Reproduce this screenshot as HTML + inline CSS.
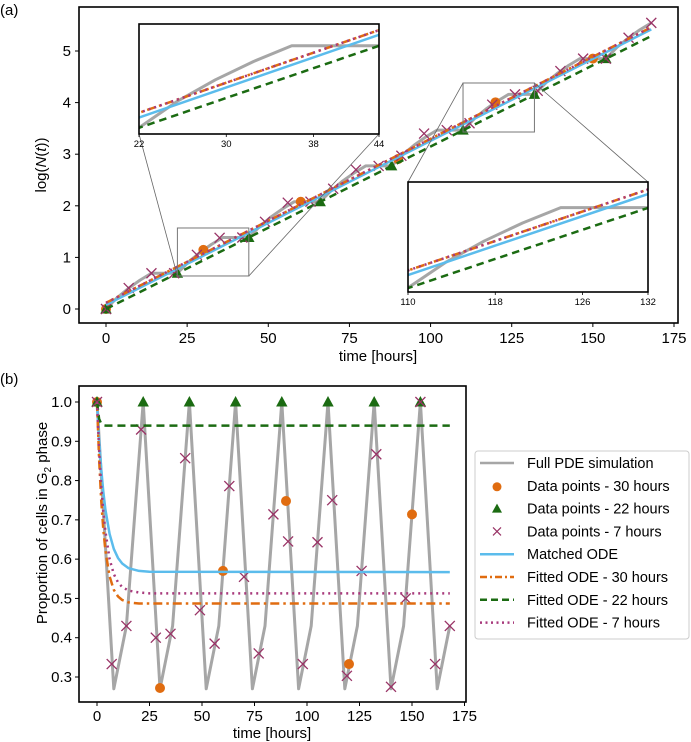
<!DOCTYPE html>
<html><head><meta charset="utf-8"><style>
html,body{margin:0;padding:0;background:#fff}
svg{display:block;font-family:"Liberation Sans","DejaVu Sans",sans-serif}
</style></head><body>
<svg id="fig" width="691" height="742" viewBox="0 0 691 742" xmlns="http://www.w3.org/2000/svg">
<defs>
<clipPath id="clipA"><rect x="79" y="7" width="599" height="316"/></clipPath>
<clipPath id="clipI1"><rect x="139" y="24" width="240" height="110"/></clipPath>
<clipPath id="clipI2"><rect x="408" y="182" width="240" height="110"/></clipPath>
<clipPath id="clipB"><rect x="79" y="386" width="387" height="316"/></clipPath>
</defs>
</svg>
<script>
// ---------- Panel (a) data ----------
const pdeAT=[0,3.5,7,10.5,14,22,25.5,29,32.5,36,44,47.5,51,54.5,58,66,69.5,73,76.5,80,88,91.5,95,98.5,102,110,113.5,117,120.5,124,132,135.5,139,142.5,146,154,157.5,161,164.5,168];
const pdeAY=[0,0.223,0.405,0.560,0.693,0.693,0.916,1.098,1.253,1.386,1.386,1.609,1.791,1.946,2.079,2.079,2.302,2.484,2.639,2.773,2.773,2.996,3.178,3.333,3.466,3.466,3.689,3.871,4.026,4.159,4.159,4.382,4.564,4.719,4.852,4.852,5.075,5.257,5.412,5.545];
const odeAT=[0,168];
const matchedA=[0.08,5.42];
const fit30A=[0.12,5.46];
const fit22A=[0.0,5.29];
const fit7A=[0.12,5.46];
const circT=[0,30,60,90,120,150];
const circAY=[0,1.145,2.079,2.906,4.005,4.852];
const triT=[0,22,44,66,88,110,132,154];
const triAY=[0,0.693,1.386,2.079,2.773,3.466,4.159,4.852];
const crossT=[0,7,14,21,28,35,42,49,56,63,70,77,84,91,98,105,112,119,126,133,140,147,154,161,168];
const crossAY=[0,0.405,0.693,0.693,1.05,1.38,1.386,1.69,2.06,2.079,2.33,2.70,2.773,2.97,3.40,3.466,3.60,3.96,4.159,4.228,4.611,4.852,4.852,5.257,5.545];
const xTicksA=[0,25,50,75,100,125,150,175];
const yTicksA=[0,1,2,3,4,5];
const inset1Ticks=[22,30,38,44];
const inset2Ticks=[110,118,126,132];
// ---------- Panel (b) data ----------
const pdeBT=[0,8,14,22,30,36,44,52,58,66,74,80,88,96,102,110,118,124,132,140,146,154,162,168];
const pdeBY=[1,0.27,0.43,1,0.27,0.43,1,0.27,0.43,1,0.27,0.43,1,0.27,0.43,1,0.27,0.43,1,0.27,0.43,1,0.27,0.43];
const odeBT=[0,1,2,3,4,6,8,10,12,15,20,25,168];
const matchedB=[1,0.904,0.830,0.772,0.726,0.664,0.626,0.603,0.589,0.577,0.570,0.568,0.567];
const fit30B=[1,0.855,0.750,0.676,0.622,0.556,0.522,0.505,0.496,0.490,0.487,0.487,0.487];
const fit22B=[1,0.957,0.945,0.941,0.940,0.94,0.94,0.94,0.94,0.94,0.94,0.94,0.94];
const fit7B=[1,0.878,0.788,0.721,0.671,0.600,0.562,0.541,0.529,0.520,0.515,0.513,0.513];
const circBY=[1,0.272,0.57,0.748,0.333,0.714];
const triBY=[1,1,1,1,1,1,1,1];
const crossBY=[1,0.333,0.43,0.93,0.4,0.41,0.857,0.47,0.385,0.786,0.555,0.36,0.714,0.645,0.333,0.643,0.75,0.303,0.57,0.867,0.275,0.5,1.0,0.333,0.43];
const xTicksB=[0,25,50,75,100,125,150,175];
const yTicksB=[0.3,0.4,0.5,0.6,0.7,0.8,0.9,1.0];

const C={grey:"#a6a6a6",orange:"#e06c10",green:"#1b6b12",blue:"#5bbcec",purple:"#a83a7c",cross:"#993366"};
const NS="http://www.w3.org/2000/svg";
const svg=document.getElementById('fig');
function el(tag,attrs,parent,text){const e=document.createElementNS(NS,tag);for(const k in attrs)e.setAttribute(k,attrs[k]);if(text!==undefined)e.textContent=text;(parent||svg).appendChild(e);return e;}
function lin(d0,d1,r0,r1){return v=>r0+(v-d0)*(r1-r0)/(d1-d0);}
function pathD(xs,ys,X,Y){return xs.map((t,i)=>(i?'L':'M')+X(t).toFixed(2)+' '+Y(ys[i]).toFixed(2)).join(' ');}

function drawSeries(g,X,Y,T,V,color,w,dash,name){
  const p=el('path',{d:pathD(T,V,X,Y),fill:'none',stroke:color,'stroke-width':w,'stroke-dasharray':dash||'none','stroke-linejoin':'round'},g);
  
  
  return p;
}
function drawMarkers(g,X,Y,T,V,kind,name,s){
  T.forEach((t,i)=>{
    const x=X(t),y=Y(V[i]);let m;
    if(kind==='circle'){m=el('circle',{cx:x,cy:y,r:s,fill:C.orange},g);}
    else if(kind==='tri'){m=el('path',{d:`M${x} ${y-s} L${x+s*0.95} ${y+s*0.75} L${x-s*0.95} ${y+s*0.75}Z`,fill:C.green},g);}
    else {m=el('path',{d:`M${x-s} ${y-s}L${x+s} ${y+s}M${x-s} ${y+s}L${x+s} ${y-s}`,stroke:C.cross,'stroke-width':1.3,fill:'none'},g);}
    
    
  });
}
function drawAllA(g,X,Y,sw,markers){
  drawSeries(g,X,Y,pdeAT,pdeAY,C.grey,sw+0.5,null,'pde-simulation-line');
  if(markers){
    drawMarkers(g,X,Y,circT,circAY,'circle','data-point-30h',5);
    drawMarkers(g,X,Y,triT,triAY,'tri','data-point-22h',6);
    drawMarkers(g,X,Y,crossT,crossAY,'cross','data-point-7h',5);
  }
  drawSeries(g,X,Y,odeAT,matchedA,C.blue,sw,null,'matched-ode-line');
  drawSeries(g,X,Y,odeAT,fit30A,C.orange,sw,(sw*3.5)+' '+(sw*1.5)+' '+sw+' '+(sw*1.5),'fitted-ode-30h-line');
  drawSeries(g,X,Y,odeAT,fit22A,C.green,sw,(sw*3)+' '+(sw*2),'fitted-ode-22h-line');
  drawSeries(g,X,Y,odeAT,fit7A,C.purple,sw,(sw*0.8)+' '+(sw*1.6),'fitted-ode-7h-line');
}

// ---------- Panel a ----------
const gA=el('g',{});
el('text',{x:0,y:15,'font-size':15,fill:'#000',},gA,'(a)');
const XA=lin(0,175,106,674),YA=lin(0,5,309,51);
const plotA=el('g',{'clip-path':'url(#clipA)'},gA);
drawAllA(plotA,XA,YA,2.5,true);
// zoom rectangles and connectors
el('rect',{x:XA(22),y:YA(1.57),width:XA(44)-XA(22),height:YA(0.64)-YA(1.57),fill:'none',stroke:'#777','stroke-width':1,},gA);
el('rect',{x:XA(110),y:YA(4.38),width:XA(132)-XA(110),height:YA(3.43)-YA(4.38),fill:'none',stroke:'#777','stroke-width':1,},gA);
el('path',{d:`M139 134L${XA(22)} ${YA(0.64)}M379 134L${XA(44)} ${YA(0.64)}M408 182L${XA(110)} ${YA(4.38)}M648 182L${XA(132)} ${YA(4.38)}`,stroke:'#666','stroke-width':0.8,fill:'none',},gA);
// insets
function inset(x0,y0,w,h,t0,t1,v0,v1,clip,ticks,name){
  const g=el('g',{},gA);
  el('rect',{x:x0,y:y0,width:w,height:h,fill:'#fff'},g);
  const X=lin(t0,t1,x0,x0+w),Y=lin(v0,v1,y0+h,y0);
  const pg=el('g',{'clip-path':`url(#${clip})`},g);
  drawAllA(pg,X,Y,2.5,false);
  el('rect',{x:x0,y:y0,width:w,height:h,fill:'none',stroke:'#000','stroke-width':1.6},g);
  ticks.forEach(t=>{el('line',{x1:X(t),x2:X(t),y1:y0+h,y2:y0+h+3,stroke:'#000','stroke-width':0.8},g);
    el('text',{x:X(t),y:y0+h+13,'font-size':9.5,'text-anchor':'middle',},g,t);});
}
inset(139,24,240,110,22,44,0.64,1.57,'clipI1',inset1Ticks,'inset-1');
inset(408,182,240,110,110,132,3.43,4.38,'clipI2',inset2Ticks,'inset-2');
el('rect',{x:79,y:7,width:599,height:316,fill:'none',stroke:'#000','stroke-width':1.6,},gA);
xTicksA.forEach(t=>{el('line',{x1:XA(t),x2:XA(t),y1:323,y2:327,stroke:'#000'},gA);
  el('text',{x:XA(t),y:343,'font-size':15,'text-anchor':'middle',},gA,t);});
yTicksA.forEach(v=>{el('line',{x1:75,x2:79,y1:YA(v),y2:YA(v),stroke:'#000'},gA);
  el('text',{x:71,y:YA(v)+5,'font-size':15,'text-anchor':'end',},gA,v);});
el('text',{x:378,y:361,'font-size':15,'text-anchor':'middle',},gA,'time [hours]');
const ylA=el('text',{x:0,y:0,'font-size':15,'text-anchor':'middle',transform:'translate(46,165) rotate(-90)',},gA);
ylA.innerHTML='log(<tspan font-style="italic">N</tspan>(<tspan font-style="italic">t</tspan>))';

// ---------- Panel b ----------
const gB=el('g',{});
el('text',{x:0,y:384,'font-size':15,},gB,'(b)');
const XB=lin(0,150,97,412),YB=lin(0.3,1.0,677,402);
const plotB=el('g',{'clip-path':'url(#clipB)'},gB);
drawSeries(plotB,XB,YB,pdeBT,pdeBY,C.grey,3,null,'pde-simulation-line');
drawMarkers(plotB,XB,YB,circT,circBY,'circle','data-point-30h',5);
drawMarkers(plotB,XB,YB,triT,triBY,'tri','data-point-22h',6);
drawMarkers(plotB,XB,YB,crossT,crossBY,'cross','data-point-7h',5);
drawSeries(plotB,XB,YB,odeBT,matchedB,C.blue,2.5,null,'matched-ode-line');
drawSeries(plotB,XB,YB,odeBT,fit30B,C.orange,2.5,'9 4 2.5 4','fitted-ode-30h-line');
drawSeries(plotB,XB,YB,odeBT,fit22B,C.green,2.5,'8 5','fitted-ode-22h-line');
drawSeries(plotB,XB,YB,odeBT,fit7B,C.purple,2.5,'2 4','fitted-ode-7h-line');
el('rect',{x:79,y:386,width:387,height:316,fill:'none',stroke:'#000','stroke-width':1.6,},gB);
xTicksB.forEach(t=>{el('line',{x1:XB(t),x2:XB(t),y1:702,y2:706,stroke:'#000'},gB);
  el('text',{x:XB(t),y:721,'font-size':15,'text-anchor':'middle',},gB,t);});
yTicksB.forEach(v=>{el('line',{x1:75,x2:79,y1:YB(v),y2:YB(v),stroke:'#000'},gB);
  el('text',{x:72,y:YB(v)+5,'font-size':15,'text-anchor':'end',},gB,v.toFixed(1));});
el('text',{x:272,y:738,'font-size':15,'text-anchor':'middle',},gB,'time [hours]');
const ylB=el('text',{x:0,y:0,'font-size':15,'text-anchor':'middle',transform:'translate(47,523) rotate(-90)',},gB);
ylB.innerHTML='Proportion of cells in G<tspan font-size="10" dy="4">2</tspan><tspan dy="-4"> phase</tspan>';

// ---------- Legend ----------
const gL=el('g',{});
el('rect',{x:475,y:451,width:214,height:188,rx:3,fill:'#fff',stroke:'#ccc','stroke-width':1},gL);
const legItems=[['Full PDE simulation','line',C.grey,null],['Data points - 30 hours','circle'],['Data points - 22 hours','tri'],['Data points - 7 hours','cross'],['Matched ODE','line',C.blue,null],['Fitted ODE - 30 hours','line',C.orange,'7 3 2 3'],['Fitted ODE - 22 hours','line',C.green,'7 4'],['Fitted ODE - 7 hours','line',C.purple,'2 3.5']];
legItems.forEach((it,i)=>{
  const y=463+i*22.8;
  const g=el('g',{},gL);
  
  
  if(it[1]==='line')el('line',{x1:480,x2:514,y1:y,y2:y,stroke:it[2],'stroke-width':2.5,'stroke-dasharray':it[3]||'none'},g);
  else if(it[1]==='circle')el('circle',{cx:497,cy:y+1,r:4.5,fill:C.orange},g);
  else if(it[1]==='tri')el('path',{d:`M497 ${y-5}L502 ${y+4}L492 ${y+4}Z`,fill:C.green},g);
  else el('path',{d:`M493 ${y-4}L501 ${y+4}M493 ${y+4}L501 ${y-4}`,stroke:C.cross,'stroke-width':1.2},g);
  el('text',{x:527,y:y+5,'font-size':14.5},g,it[0]);
});
</script>
</body></html>
